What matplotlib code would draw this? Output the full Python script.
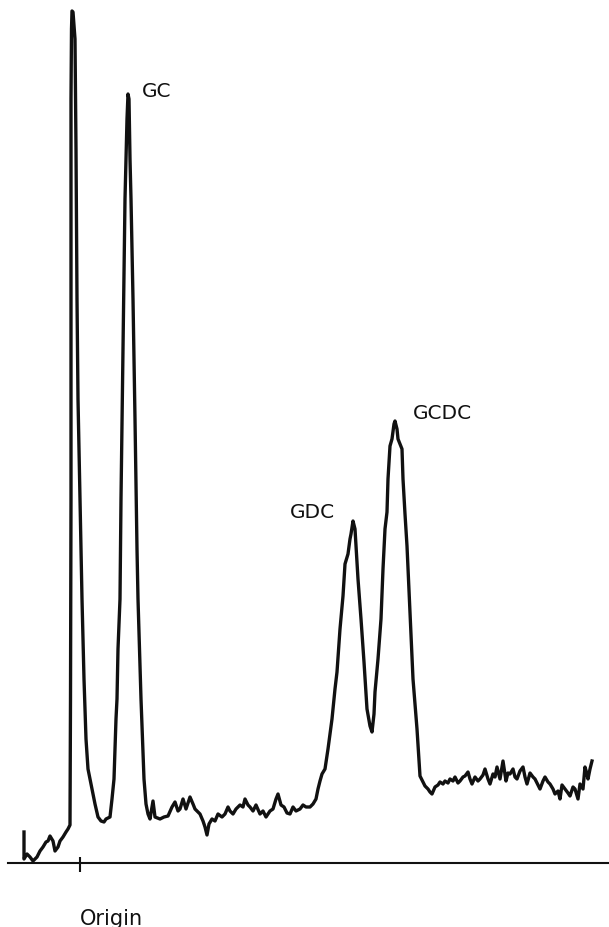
import matplotlib
matplotlib.use("Agg")
import matplotlib.pyplot as plt

# densitometer scan: position relative to origin, detector signal (arbitrary units)
position = [
    -56, -56, -53, -50, -47, -43, -40, -37, -34, -32, -30, -27, -25, -22, -20, -17, -14, -12, -10,
    -9.5, -9, -9, -9, -8.5, -8, -7, -5, -4, -3, -2, 0, 2, 4, 6, 8, 12, 15, 18, 21, 24, 26,
    30, 32, 34, 36, 37, 38, 40, 41, 43, 45, 47, 48, 49, 50, 51, 53, 55, 57, 58, 61, 64, 66, 68, 70,
    73, 75, 80, 84, 88, 92, 95, 98, 100, 103, 106, 110, 113, 115, 120, 123, 125, 127, 129, 132,
    135, 138, 142, 145, 148, 150, 153, 156, 160, 163, 165, 168, 170, 173, 176, 180, 183, 186,
    190, 193, 196, 198, 201, 204, 207, 210, 213, 216, 220, 223, 226, 230, 233, 236, 238, 240,
    242, 245,
    248, 252, 255, 257, 260, 263, 265, 268, 270, 271, 273, 275, 276, 278, 281, 284, 287, 290,
    292, 294, 295, 298, 301, 303, 305, 307, 308, 310, 312, 314, 315, 317, 318, 322, 323, 325,
    327, 330, 333, 337, 340, 343, 345, 348, 350, 352, 355,
    358, 360, 363, 365, 368, 370, 373, 375, 378, 380, 383, 385, 388, 390, 392, 395, 398, 400,
    403, 405, 408, 410, 413, 415, 417, 420, 423, 426, 428, 430, 433, 435, 437, 440, 443, 445,
    447, 450, 453, 455, 458, 460, 463, 465, 468, 470, 473, 475, 478, 480, 482, 485, 488, 490,
    493, 495, 498, 500, 503, 505, 507, 508, 510, 512,
]
signal = [
    31, 4, 9, 6, 2, 6, 12, 16, 21, 22, 27, 22, 12, 16, 22, 26, 31, 34, 38,
    164, 364, 564, 764, 834, 852, 851, 824, 714, 564, 464, 364, 264, 184, 124, 94, 74, 59, 46, 42, 41, 44,
    46, 64, 84, 144, 164, 214, 264, 364, 514, 664, 744, 769, 764, 704, 664, 564, 444, 314, 264, 164, 84, 59, 49, 44,
    62, 46, 44, 46, 47, 56, 61, 52, 54, 64, 54, 66, 59, 54, 49, 42, 36, 28, 39, 44,
    42, 49, 46, 49, 56, 52, 49, 54, 58, 56, 64, 58, 56, 52, 58, 49, 52, 46,
    52, 54, 64, 69, 58, 56, 50, 49, 56, 52, 54, 58, 56, 56, 59, 64, 74, 82,
    89, 94,
    114, 144, 174, 191, 234, 267, 299, 309, 324, 329, 342, 334, 317, 284, 244, 201, 154, 137,
    131, 149, 171, 204, 244, 294, 334, 351, 384, 417, 424, 439, 442, 434, 424, 414, 384, 349,
    317, 251, 184, 134, 87, 81, 77, 74, 71, 69, 76,
    78, 81, 79, 82, 80, 84, 82, 86, 80, 82, 86, 87, 91, 84, 79, 86, 82, 84,
    88, 94, 84, 79, 89, 86, 96, 84, 102, 82, 90, 89, 94, 86, 84, 92, 96, 86,
    79, 90, 86, 84, 78, 74, 82, 86, 81, 79, 74, 69, 72, 64, 78, 74, 70, 67,
    76, 74, 64, 79, 74, 96, 89, 84, 94, 102,
]

peak_names = ["GC", "GDC", "GCDC"]
peak_label_x = [62, 210, 333]
peak_label_y = [767, 346, 445]

fig = plt.figure(figsize=(6.09, 9.28), dpi=100)
fig.patch.set_facecolor("white")
ax = fig.add_axes([0, 0, 1, 1])

ax.plot(position, signal, color="#111111", linewidth=2.4, solid_joinstyle="round")

# baseline and origin mark
ax.axhline(0, xmin=8 / 609, xmax=1, color="#111111", linewidth=1.5)
ax.vlines(0, -9, 6, color="#111111", linewidth=1.5)

for name, lx, ly in zip(peak_names, peak_label_x, peak_label_y):
    ax.text(lx, ly, name, fontsize=14.5, ha="left", va="baseline", color="#111111")

ax.text(31, -61, "Origin", fontsize=15, ha="center", va="baseline", color="#111111")

ax.set_xlim(-80, 529)
ax.set_ylim(-64, 864)
ax.axis("off")

fig.savefig("out.png", dpi=100, facecolor="white")
